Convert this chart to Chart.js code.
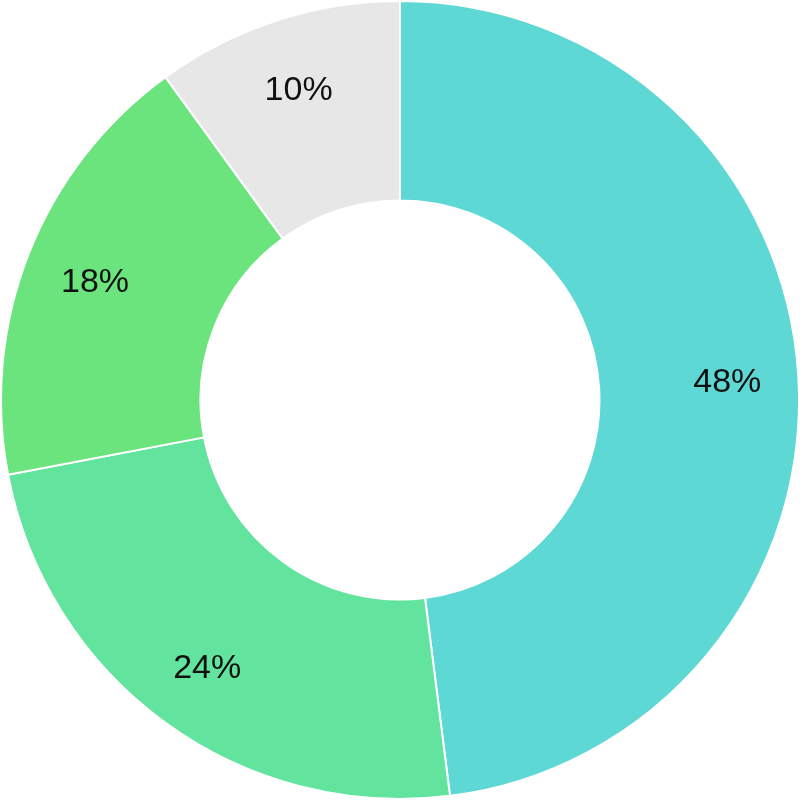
<html><head>
<meta charset="utf-8">
<title>Doughnut</title>
<script src="https://cdn.jsdelivr.net/npm/chart.js"></script>
<style>
body { margin: 0; background: #fff; }
</style>
</head>
<body>
<canvas id="doughnut" width="800" height="800" style="display: block; width: 800px; height: 800px;"></canvas>
<script>
// values, clockwise from 12 o'clock
var labels = ['A', 'B', 'C', 'D'];
var values = [48, 24, 18, 10];
var colors = ['#5dd8d4', '#62e39e', '#6ce47e', '#e7e7e7'];

// writes the percent of each slice inside the ring
var percentLabels = {
    id: 'percentLabels',
    afterDatasetsDraw: function(chart) {
        var ctx = chart.ctx;
        var meta = chart.getDatasetMeta(0);
        var total = values.reduce(function(a, b) { return a + b; }, 0);
        ctx.save();
        ctx.font = '34px "Liberation Sans", Arial, sans-serif';
        ctx.fillStyle = '#111';
        ctx.textAlign = 'center';
        ctx.textBaseline = 'middle';
        meta.data.forEach(function(arc, i) {
            var p = arc.getProps(['x', 'y', 'startAngle', 'endAngle', 'outerRadius'], true);
            var mid = (p.startAngle + p.endAngle) / 2;
            var r = p.outerRadius * 0.822;
            var text = Math.round(values[i] / total * 100) + '%';
            ctx.fillText(text, p.x + Math.cos(mid) * r, p.y + Math.sin(mid) * r + 3);
        });
        ctx.restore();
    }
};

new Chart(document.getElementById('doughnut'), {
    type: 'doughnut',
    data: {
        labels: labels,
        datasets: [{
            data: values,
            backgroundColor: colors,
            borderColor: '#ffffff',
            borderWidth: 2
        }]
    },
    options: {
        responsive: false,
        animation: false,
        cutout: '50%',
        layout: { padding: 0 },
        plugins: {
            legend: { display: false },
            tooltip: { enabled: false }
        }
    },
    plugins: [percentLabels]
});
</script>
</body></html>
